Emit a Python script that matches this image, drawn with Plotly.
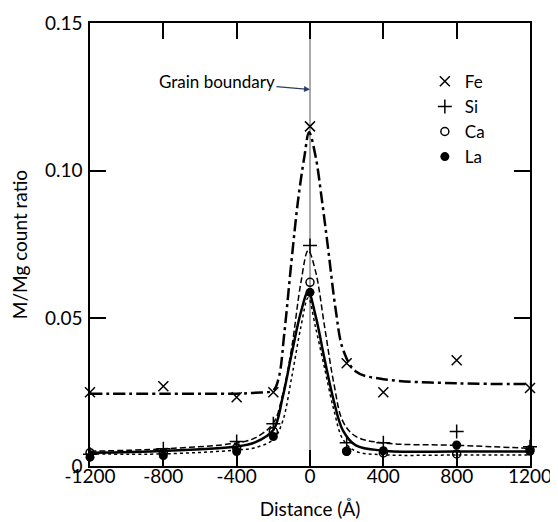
import plotly.graph_objects as go

# Measured points
dist = [-1200, -800, -400, -200, 0, 200, 400, 800, 1200]
fe = [0.0250, 0.0270, 0.0233, 0.0250, 0.1150, 0.0348, 0.0250, 0.0358, 0.0264]
si = [0.0040, 0.0058, 0.0083, 0.0143, 0.0747, 0.0079, 0.0079, 0.0117, 0.0065]
ca = [0.0045, 0.0045, 0.0061, 0.0117, 0.0622, 0.0050, 0.0044, 0.0041, 0.0055]
la = [0.0030, 0.0035, 0.0049, 0.0100, 0.0588, 0.0049, 0.0052, 0.0071, 0.0050]

# Fitted curves
fe_fit_x = [-1200, -800, -400, -300, -200, -170, -140, -100, -65, -30, -5, 30, 65, 100, 140, 180, 250, 400, 800, 1200]
fe_fit_y = [0.0245, 0.0245, 0.0245, 0.0248, 0.0256, 0.030, 0.045, 0.070, 0.090, 0.105, 0.113, 0.105, 0.090, 0.073, 0.053, 0.0395, 0.032, 0.0294, 0.0280, 0.0278]

fit_x = [-1200, -800, -400, -300, -200, -150, -100, -50, -10, 30, 80, 130, 180, 250, 400, 800, 1200]
si_fit_y = [0.0050, 0.0058, 0.0078, 0.0095, 0.0145, 0.024, 0.040, 0.062, 0.073, 0.066, 0.047, 0.028, 0.015, 0.0100, 0.0078, 0.0070, 0.0060]
la_fit_y = [0.0045, 0.0051, 0.0066, 0.0080, 0.0122, 0.023, 0.038, 0.052, 0.059, 0.051, 0.036, 0.022, 0.012, 0.0070, 0.0052, 0.0049, 0.0049]
ca_fit_y = [0.0041, 0.0041, 0.0054, 0.0062, 0.0090, 0.015, 0.030, 0.047, 0.057, 0.047, 0.033, 0.019, 0.009, 0.0050, 0.0038, 0.0037, 0.0037]

x_ticks = [-1200, -800, -400, 0, 400, 800, 1200]
x_tick_text = ["-1200", "-800", "-400", "0", "400", "800", "1200"]
y_ticks = [0, 0.05, 0.10, 0.15]
y_tick_text = ["0", "0.05", "0.10", "0.15"]

FONT = "Lato, 'Open Sans', sans-serif"
fig = go.Figure()

# grain boundary line
fig.add_trace(go.Scatter(x=[0, 0], y=[0, 0.15], mode="lines",
                         line=dict(color="#555", width=1), showlegend=False, hoverinfo="skip"))

# curves
fig.add_trace(go.Scatter(x=fe_fit_x, y=fe_fit_y, mode="lines", line_shape="spline",
                         line=dict(color="black", width=2.5, dash="12px,4px,3px,4px"), showlegend=False))
fig.add_trace(go.Scatter(x=fit_x, y=si_fit_y, mode="lines", line_shape="spline",
                         line=dict(color="black", width=1.5, dash="6px,3px"), showlegend=False))
fig.add_trace(go.Scatter(x=fit_x, y=la_fit_y, mode="lines", line_shape="spline",
                         line=dict(color="black", width=2.5), showlegend=False))
fig.add_trace(go.Scatter(x=fit_x, y=ca_fit_y, mode="lines", line_shape="spline",
                         line=dict(color="black", width=1.5, dash="dot"), showlegend=False))

# markers
fig.add_trace(go.Scatter(x=dist, y=fe, mode="markers", name="Fe", cliponaxis=False,
                         marker=dict(symbol="x-thin", size=10, line=dict(color="black", width=1.5))))
fig.add_trace(go.Scatter(x=dist, y=si, mode="markers", name="Si", cliponaxis=False,
                         marker=dict(symbol="cross-thin", size=10, line=dict(color="black", width=1.5))))
fig.add_trace(go.Scatter(x=dist, y=ca, mode="markers", name="Ca", cliponaxis=False,
                         marker=dict(symbol="circle-open", size=8, color="black", line=dict(color="black", width=1.5))))
fig.add_trace(go.Scatter(x=dist, y=la, mode="markers", name="La", cliponaxis=False,
                         marker=dict(symbol="circle", size=9, color="black")))

fig.add_annotation(x=0, y=0.1275, xref="x", yref="y", text="Grain boundary",
                   showarrow=True, arrowhead=2, arrowsize=1, arrowwidth=1.2,
                   ax=-93, ay=-8, font=dict(size=17, family=FONT, color="black"),
                   xanchor="center")

axis_common = dict(showline=True, linecolor="black", linewidth=1.5, mirror="ticks",
                   ticks="inside", ticklen=16, tickwidth=1.5, tickcolor="black",
                   showgrid=False, zeroline=False, automargin=False,
                   tickfont=dict(size=19, family=FONT, color="black"))

fig.update_xaxes(range=[-1200, 1200], tickvals=x_ticks, ticktext=x_tick_text,
                 ticklabelstandoff=-8,
                 title=dict(text="Distance (Å)", font=dict(size=19, family=FONT, color="black"), standoff=17),
                 **axis_common)
fig.update_yaxes(range=[0, 0.15], tickvals=y_ticks, ticktext=y_tick_text,
                 ticklabelstandoff=2,
                 title=dict(text="M/Mg count ratio", font=dict(size=19, family=FONT, color="black"), standoff=17),
                 **axis_common)

fig.update_layout(
    width=558, height=522,
    margin=dict(l=82, r=36, t=15, b=64),
    plot_bgcolor="white", paper_bgcolor="white",
    legend=dict(x=0.761, y=0.908, xanchor="left", yanchor="top", bgcolor="rgba(0,0,0,0)",
                font=dict(size=17, family=FONT, color="black"), tracegroupgap=0,
                itemwidth=30),
)

fig.write_html("out.html")
